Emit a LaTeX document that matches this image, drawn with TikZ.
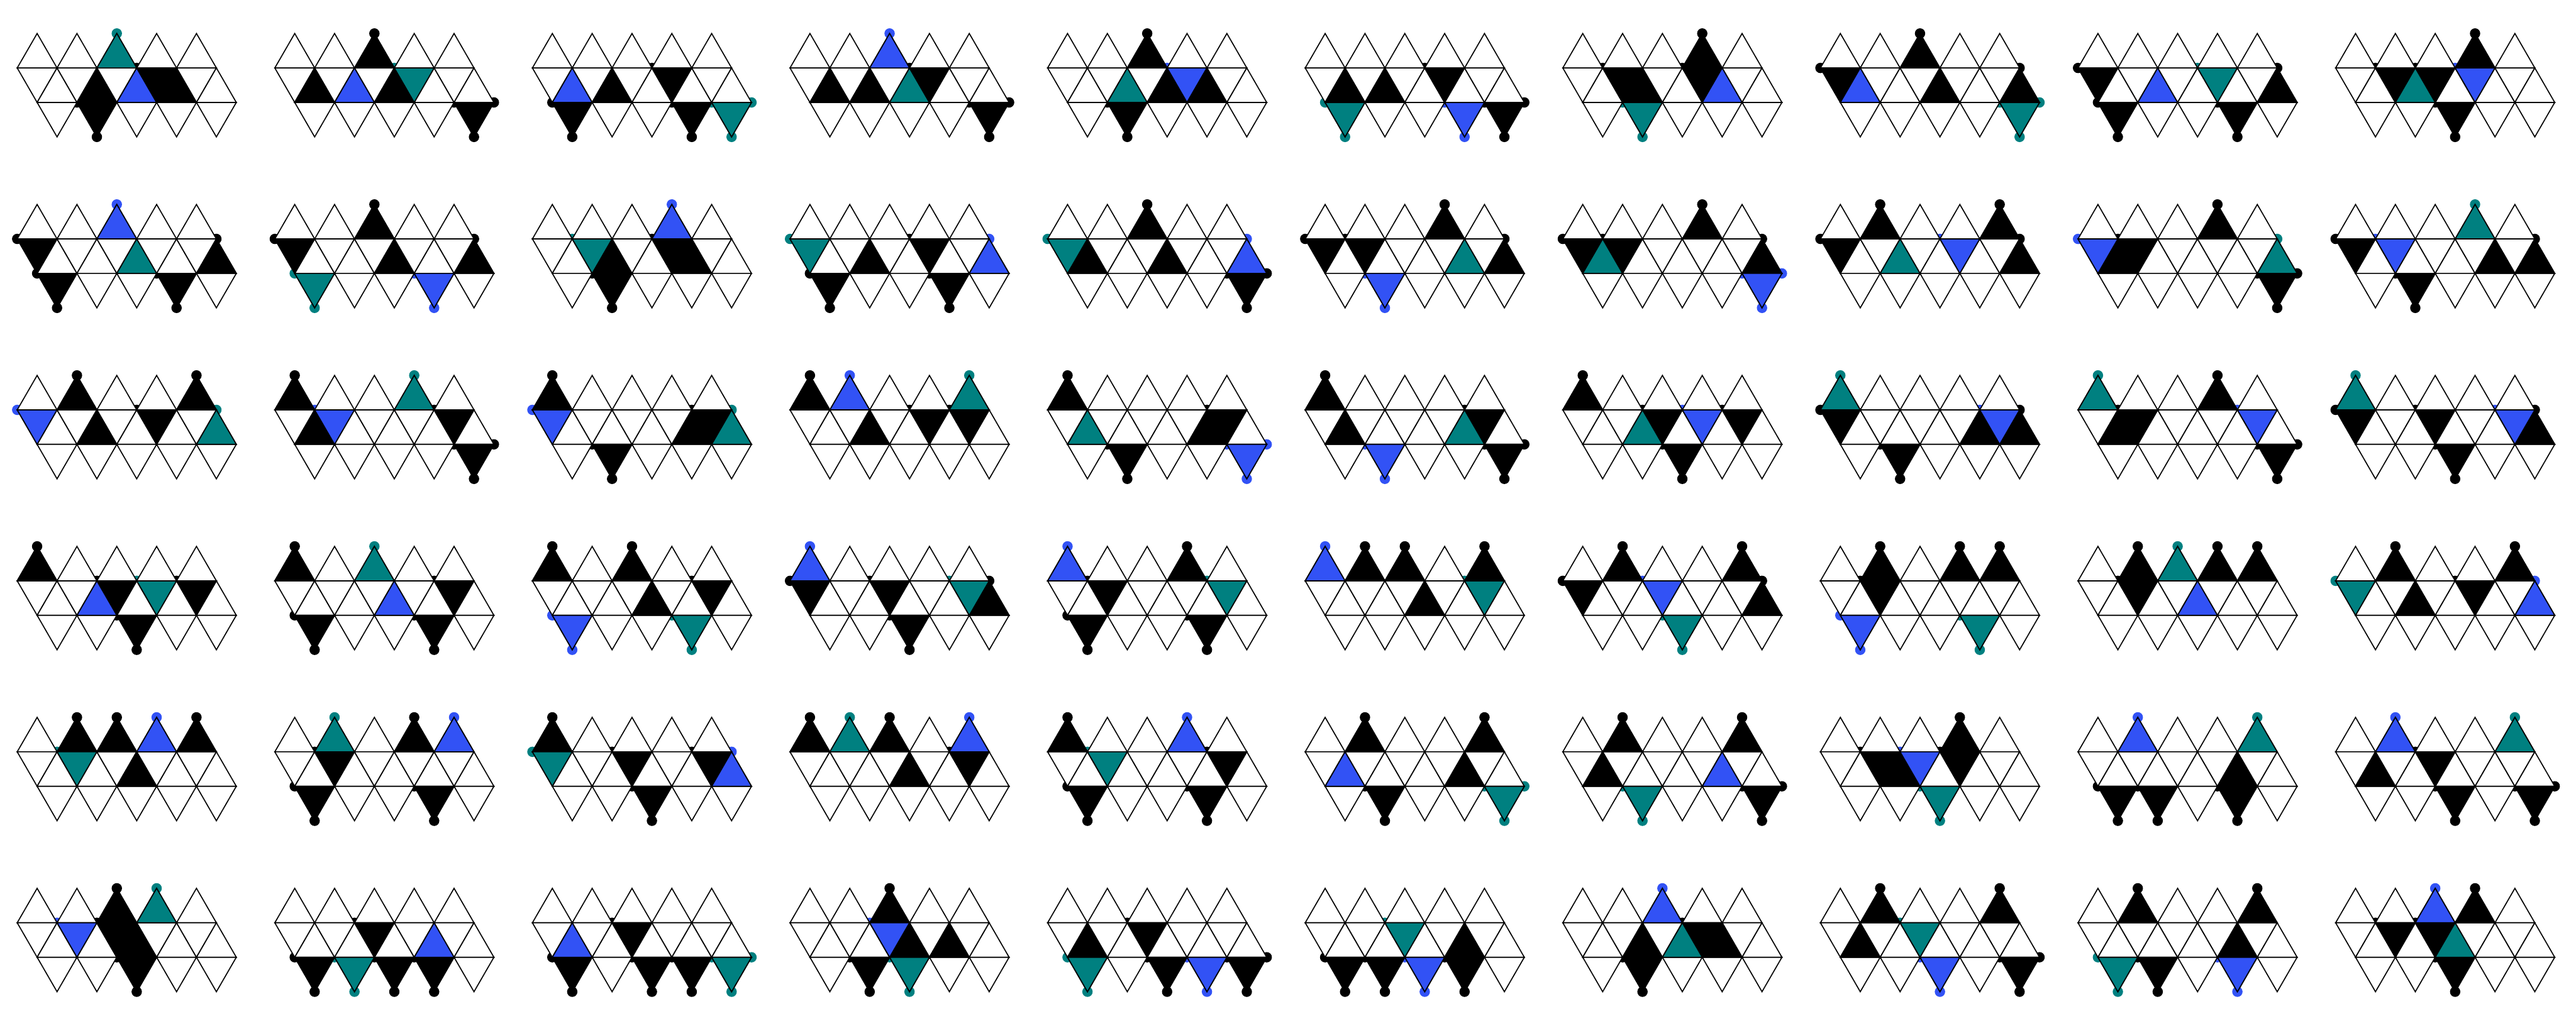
\documentclass[tikz,border=0pt]{standalone}
\usepackage{tikz}
\usetikzlibrary{calc}

\definecolor{netblue}{RGB}{50,82,245}
\definecolor{netteal}{RGB}{0,128,128}

\tikzset{
  face/.style={draw=black, line width=0.75pt},
  netdot/.style={fill=#1}
}

\def\hh{0.866}
\def\dotr{0.13}

% faces: U = top row, D = middle row pointing down, P = middle row pointing up, B = bottom row
\newcommand{\netface}[3]{%
  \if#1U\filldraw[face,fill=#3] ({#2+0.5},\hh) -- (#2,0) -- ({#2+1},0) -- cycle;\fi
  \if#1D\filldraw[face,fill=#3] (#2,0) -- ({#2+1},0) -- ({#2+0.5},-\hh) -- cycle;\fi
  \if#1P\filldraw[face,fill=#3] ({#2+0.5},-\hh) -- ({#2+1.5},-\hh) -- ({#2+1},0) -- cycle;\fi
  \if#1B\filldraw[face,fill=#3] ({#2+0.5},-\hh) -- ({#2+1.5},-\hh) -- ({#2+1},{-2*\hh}) -- cycle;\fi
}

% the dot that goes with a coloured face (drawn below the faces)
\newcommand{\netdot}[3]{%
  \if#1U\path[netdot=#3] ({#2+0.5},\hh) circle[radius=\dotr];\fi
  \if#1D\path[netdot=#3] (#2,0) circle[radius=\dotr];\fi
  \if#1P\ifnum#2=4\relax\path[netdot=#3] (5,0) circle[radius=\dotr];\fi\fi
  \if#1B\path[netdot=#3] ({#2+1},{-2*\hh}) circle[radius=\dotr];
    \path[netdot=#3] ({#2+0.5},-\hh) circle[radius=\dotr];
    \ifnum#2=4\relax\path[netdot=#3] (5.5,-\hh) circle[radius=\dotr];\fi\fi
}

% one net: row, column, coloured faces
\newcommand{\icosnet}[3]{%
  \begin{scope}[shift={({6.46667*#2+0.432},{-4.29333*#1-1.70667})}]
    \foreach \t/\k/\c in {#3} {\netdot{\t}{\k}{\c}}
    \foreach \k in {0,...,4} {
      \netface{U}{\k}{white}
      \netface{D}{\k}{white}
      \netface{P}{\k}{white}
      \netface{B}{\k}{white}
    }
    \foreach \t/\k/\c in {#3} {\netface{\t}{\k}{\c}}
  \end{scope}
}

\begin{document}
\begin{tikzpicture}
\useasboundingbox (0,0) rectangle (64.6667,-25.76);

% row 1
\icosnet{0}{0}{U/2/netteal,P/2/netblue,D/3/black,P/3/black,P/1/black,B/1/black}
\icosnet{0}{1}{U/2/black,P/0/black,P/1/netblue,P/2/black,D/3/netteal,B/4/black}
\icosnet{0}{2}{P/0/netblue,P/1/black,D/3/black,B/0/black,B/3/black,B/4/netteal}
\icosnet{0}{3}{U/2/netblue,P/0/black,P/1/black,P/2/netteal,D/3/black,B/4/black}
\icosnet{0}{4}{U/2/black,P/1/netteal,P/2/black,D/3/netblue,P/3/black,B/1/black}
\icosnet{0}{5}{P/0/black,P/1/black,D/3/black,B/4/black,B/0/netteal,B/3/netblue}
\icosnet{0}{6}{U/3/black,D/1/black,P/1/black,D/3/black,P/3/netblue,B/1/netteal}
\icosnet{0}{7}{U/2/black,D/0/black,P/2/black,P/4/black,P/0/netblue,B/4/netteal}
\icosnet{0}{8}{D/0/black,P/4/black,B/0/black,B/3/black,P/1/netblue,D/3/netteal}
\icosnet{0}{9}{U/3/black,D/1/black,D/2/black,B/2/black,P/1/netteal,D/3/netblue}

% row 2
\icosnet{1}{0}{D/0/black,P/4/black,B/0/black,B/3/black,U/2/netblue,P/2/netteal}
\icosnet{1}{1}{U/2/black,D/0/black,P/2/black,P/4/black,B/0/netteal,B/3/netblue}
\icosnet{1}{2}{P/1/black,D/3/black,P/3/black,B/1/black,U/3/netblue,D/1/netteal}
\icosnet{1}{3}{P/1/black,D/3/black,B/0/black,B/3/black,D/0/netteal,P/4/netblue}
\icosnet{1}{4}{U/2/black,P/0/black,P/2/black,B/4/black,D/0/netteal,P/4/netblue}
\icosnet{1}{5}{U/3/black,D/0/black,D/1/black,P/4/black,P/3/netteal,B/1/netblue}
\icosnet{1}{6}{U/3/black,D/0/black,D/1/black,P/4/black,P/0/netteal,B/4/netblue}
\icosnet{1}{7}{U/1/black,U/4/black,D/0/black,P/4/black,P/1/netteal,D/3/netblue}
\icosnet{1}{8}{U/3/black,P/0/black,D/1/black,B/4/black,D/0/netblue,P/4/netteal}
\icosnet{1}{9}{D/0/black,P/3/black,P/4/black,B/1/black,U/3/netteal,D/1/netblue}

% row 3
\icosnet{2}{0}{U/1/black,U/4/black,P/1/black,D/3/black,D/0/netblue,P/4/netteal}
\icosnet{2}{1}{U/0/black,P/0/black,D/4/black,B/4/black,U/3/netteal,D/1/netblue}
\icosnet{2}{2}{U/0/black,P/3/black,D/4/black,B/1/black,D/0/netblue,P/4/netteal}
\icosnet{2}{3}{U/0/black,P/1/black,D/3/black,D/4/black,U/1/netblue,U/4/netteal}
\icosnet{2}{4}{U/0/black,P/3/black,D/4/black,B/1/black,P/0/netteal,B/4/netblue}
\icosnet{2}{5}{U/0/black,P/0/black,D/4/black,B/4/black,P/3/netteal,B/1/netblue}
\icosnet{2}{6}{U/0/black,D/2/black,D/4/black,B/2/black,P/1/netteal,D/3/netblue}
\icosnet{2}{7}{D/0/black,P/3/black,P/4/black,B/1/black,U/0/netteal,D/4/netblue}
\icosnet{2}{8}{U/3/black,P/0/black,D/1/black,B/4/black,U/0/netteal,D/4/netblue}
\icosnet{2}{9}{D/0/black,D/2/black,P/4/black,B/2/black,U/0/netteal,D/4/netblue}

% row 4
\icosnet{3}{0}{U/0/black,D/2/black,D/4/black,B/2/black,P/1/netblue,D/3/netteal}
\icosnet{3}{1}{U/0/black,D/4/black,B/0/black,B/3/black,U/2/netteal,P/2/netblue}
\icosnet{3}{2}{U/0/black,U/2/black,P/2/black,D/4/black,B/0/netblue,B/3/netteal}
\icosnet{3}{3}{D/0/black,D/2/black,P/4/black,B/2/black,U/0/netblue,D/4/netteal}
\icosnet{3}{4}{U/3/black,D/1/black,B/0/black,B/3/black,U/0/netblue,D/4/netteal}
\icosnet{3}{5}{U/1/black,U/2/black,U/4/black,P/2/black,U/0/netblue,D/4/netteal}
\icosnet{3}{6}{U/1/black,U/4/black,D/0/black,P/4/black,D/2/netblue,B/2/netteal}
\icosnet{3}{7}{U/1/black,U/3/black,U/4/black,D/1/black,B/0/netblue,B/3/netteal}
\icosnet{3}{8}{U/1/black,U/3/black,U/4/black,D/1/black,U/2/netteal,P/2/netblue}
\icosnet{3}{9}{U/1/black,U/4/black,P/1/black,D/3/black,D/0/netteal,P/4/netblue}

% row 5
\icosnet{4}{0}{U/1/black,U/2/black,U/4/black,P/2/black,U/3/netblue,D/1/netteal}
\icosnet{4}{1}{U/3/black,D/1/black,B/0/black,B/3/black,U/1/netteal,U/4/netblue}
\icosnet{4}{2}{U/0/black,D/2/black,D/4/black,B/2/black,D/0/netteal,P/4/netblue}
\icosnet{4}{3}{U/0/black,U/2/black,P/2/black,D/4/black,U/1/netteal,U/4/netblue}
\icosnet{4}{4}{U/0/black,D/4/black,B/0/black,B/3/black,U/3/netblue,D/1/netteal}
\icosnet{4}{5}{U/1/black,U/4/black,P/3/black,B/1/black,P/0/netblue,B/4/netteal}
\icosnet{4}{6}{U/1/black,U/4/black,P/0/black,B/4/black,P/3/netblue,B/1/netteal}
\icosnet{4}{7}{U/3/black,D/1/black,P/1/black,D/3/black,D/2/netblue,B/2/netteal}
\icosnet{4}{8}{P/3/black,B/0/black,B/1/black,B/3/black,U/1/netblue,U/4/netteal}
\icosnet{4}{9}{P/0/black,D/2/black,B/2/black,B/4/black,U/1/netblue,U/4/netteal}

% row 6
\icosnet{5}{0}{U/2/black,D/2/black,P/2/black,B/2/black,D/1/netblue,U/3/netteal}
\icosnet{5}{1}{D/2/black,B/0/black,B/2/black,B/3/black,P/3/netblue,B/1/netteal}
\icosnet{5}{2}{D/2/black,B/0/black,B/2/black,B/3/black,P/0/netblue,B/4/netteal}
\icosnet{5}{3}{U/2/black,P/2/black,P/3/black,B/1/black,D/2/netblue,B/2/netteal}
\icosnet{5}{4}{P/0/black,D/2/black,B/2/black,B/4/black,B/0/netteal,B/3/netblue}
\icosnet{5}{5}{P/3/black,B/0/black,B/1/black,B/3/black,D/2/netteal,B/2/netblue}
\icosnet{5}{6}{P/1/black,D/3/black,P/3/black,B/1/black,U/2/netblue,P/2/netteal}
\icosnet{5}{7}{U/1/black,U/4/black,P/0/black,B/4/black,D/2/netteal,B/2/netblue}
\icosnet{5}{8}{U/1/black,U/4/black,P/3/black,B/1/black,B/0/netteal,B/3/netblue}
\icosnet{5}{9}{U/3/black,D/1/black,D/2/black,B/2/black,U/2/netblue,P/2/netteal}
\end{tikzpicture}
\end{document}
